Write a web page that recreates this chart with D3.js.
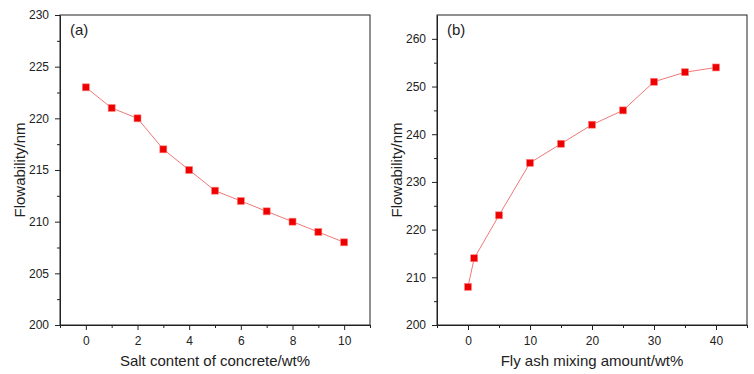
<!DOCTYPE html>
<html>
<head>
<meta charset="utf-8">
<script src="https://cdn.jsdelivr.net/npm/d3@7"></script>
<style>
  body { margin: 0; background: #fff; }
  svg { display: block; font-family: "Liberation Sans", Arial, sans-serif; }
  .axis path, .axis line { stroke: #222; }
  .axis text { font-size: 12px; fill: #222; }
</style>
</head>
<body>
<div id="chart"></div>
<script>
'use strict';

// panel (a)
var saltContent = [0, 1, 2, 3, 4, 5, 6, 7, 8, 9, 10];
var saltFlow = [223, 221, 220, 217, 215, 213, 212, 211, 210, 209, 208];

// panel (b)
var flyAsh = [0, 1, 5, 10, 15, 20, 25, 30, 35, 40];
var flyFlow = [208, 214, 223, 234, 238, 242, 245, 251, 253, 254];

var panels = [
    {
        label: '(a)', xTitle: 'Salt content of concrete/wt%', yTitle: 'Flowability/nm',
        xs: saltContent, ys: saltFlow,
        xDomain: [-1, 11], yDomain: [200, 230],
        xTicks: [0, 2, 4, 6, 8, 10], xMinor: [-1, 1, 3, 5, 7, 9, 11],
        yTicks: [200, 205, 210, 215, 220, 225, 230], yMinor: [202.5, 207.5, 212.5, 217.5, 222.5, 227.5],
        left: 60, right: 370
    },
    {
        label: '(b)', xTitle: 'Fly ash mixing amount/wt%', yTitle: 'Flowability/nm',
        xs: flyAsh, ys: flyFlow,
        xDomain: [-5, 45], yDomain: [200, 265],
        xTicks: [0, 10, 20, 30, 40], xMinor: [-5, 5, 15, 25, 35, 45],
        yTicks: [200, 210, 220, 230, 240, 250, 260], yMinor: [205, 215, 225, 235, 245, 255],
        left: 437, right: 747
    }
];

var width = 754, height = 374, plotTop = 15, plotBottom = 325;

var svg = d3.select('#chart').append('svg')
    .attr('width', width)
    .attr('height', height);

panels.forEach(function(p){
    var x = d3.scaleLinear().domain(p.xDomain).range([p.left, p.right]);
    var y = d3.scaleLinear().domain(p.yDomain).range([plotBottom, plotTop]);
    var g = svg.append('g');

    // minor ticks first so the major ones sit on top
    g.append('g').attr('class', 'axis')
        .attr('transform', 'translate(0,' + plotBottom + ')')
        .call(d3.axisBottom(x).tickValues(p.xMinor).tickSize(3).tickFormat(''))
        .select('.domain').remove();
    g.append('g').attr('class', 'axis')
        .attr('transform', 'translate(' + p.left + ',0)')
        .call(d3.axisLeft(y).tickValues(p.yMinor).tickSize(3).tickFormat(''))
        .select('.domain').remove();

    g.append('g').attr('class', 'axis')
        .attr('transform', 'translate(0,' + plotBottom + ')')
        .call(d3.axisBottom(x).tickValues(p.xTicks).tickSize(5).tickSizeOuter(0).tickPadding(6));
    g.append('g').attr('class', 'axis')
        .attr('transform', 'translate(' + p.left + ',0)')
        .call(d3.axisLeft(y).tickValues(p.yTicks).tickSize(5).tickSizeOuter(0).tickPadding(6));

    // frame
    g.append('rect')
        .attr('x', p.left).attr('y', plotTop)
        .attr('width', p.right - p.left).attr('height', plotBottom - plotTop)
        .attr('fill', 'none').attr('stroke', '#222').attr('stroke-width', 1);

    var pts = p.xs.map(function(d, i){ return [d, p.ys[i]]; });

    g.append('path')
        .datum(pts)
        .attr('fill', 'none')
        .attr('stroke', '#f07878')
        .attr('stroke-width', 1)
        .attr('d', d3.line()
            .x(function(d){ return x(d[0]); })
            .y(function(d){ return y(d[1]); }));

    g.selectAll('.marker')
        .data(pts)
        .enter()
        .append('rect')
        .attr('class', 'marker')
        .attr('x', function(d){ return x(d[0]) - 3.5; })
        .attr('y', function(d){ return y(d[1]) - 3.5; })
        .attr('width', 7)
        .attr('height', 7)
        .attr('fill', '#ee0000')
        .attr('stroke', '#ff8080')
        .attr('stroke-width', 0.6);

    g.append('text')
        .attr('x', p.left + 10)
        .attr('y', plotTop + 20)
        .attr('font-size', 15)
        .attr('fill', '#222')
        .text(p.label);

    g.append('text')
        .attr('x', (p.left + p.right) / 2)
        .attr('y', 366)
        .attr('text-anchor', 'middle')
        .attr('font-size', 15)
        .attr('fill', '#222')
        .text(p.xTitle);

    g.append('text')
        .attr('transform', 'translate(' + (p.left - 35) + ',' + ((plotTop + plotBottom) / 2) + ') rotate(-90)')
        .attr('text-anchor', 'middle')
        .attr('font-size', 15)
        .attr('fill', '#222')
        .text(p.yTitle);
});
</script>
</body>
</html>
